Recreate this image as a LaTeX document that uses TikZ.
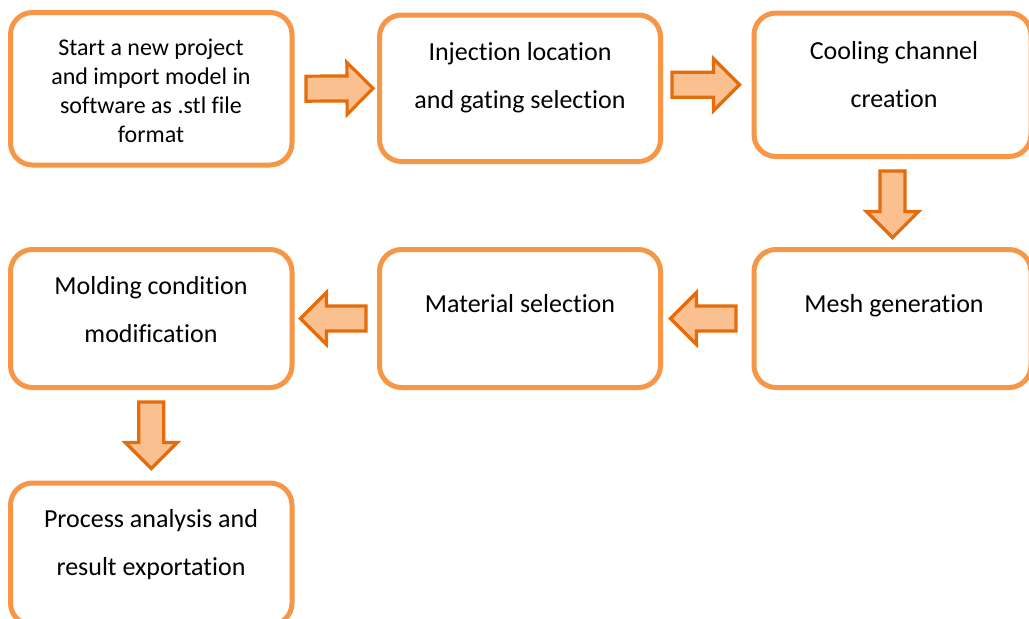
\documentclass[tikz,border=0pt]{standalone}
\usepackage{fontspec}
\setmainfont{Carlito}[Ligatures={NoCommon}, RawFeature={-liga;-clig}]
\usetikzlibrary{calc}
\definecolor{boxline}{RGB}{247,150,70}
\definecolor{arrline}{RGB}{228,108,10}
\definecolor{arrfill}{RGB}{250,192,143}
\begin{document}
\begin{tikzpicture}[x=1pt,y=-1pt,
  stepbox/.style={rectangle, draw=boxline, line width=5pt, rounded corners=22pt,
    fill=white, inner sep=0pt},
  bigtxt/.style={anchor=base, inner sep=0pt, text=black,
    font=\fontsize{26}{31}\selectfont},
  smalltxt/.style={anchor=base, inner sep=0pt, text=black,
    font=\fontsize{24}{29}\selectfont},
  % block arrow between two anchors; #1 = gap at the tail, #2 = gap at the tip
  fatarrow/.style 2 args={draw=arrline, fill=arrfill, line width=3.2pt,
    line join=miter,
    to path={
      let \p1=(\tikztostart), \p2=(\tikztotarget),
          \n1={veclen(\x2-\x1,\y2-\y1)},
          \n2={(\x2-\x1)/\n1}, \n3={(\y2-\y1)/\n1},
          \n4={\n1-(#2)}, \n5={\n1-(#2)-26}
      in
      ({\x1+(#1)*\n2-12.5*\n3},{\y1+(#1)*\n3+12.5*\n2})
      -- ({\x1+\n5*\n2-12.5*\n3},{\y1+\n5*\n3+12.5*\n2})
      -- ({\x1+\n5*\n2-26*\n3},{\y1+\n5*\n3+26*\n2})
      -- ({\x1+\n4*\n2},{\y1+\n4*\n3})
      -- ({\x1+\n5*\n2+26*\n3},{\y1+\n5*\n3-26*\n2})
      -- ({\x1+\n5*\n2+12.5*\n3},{\y1+\n5*\n3-12.5*\n2})
      -- ({\x1+(#1)*\n2+12.5*\n3},{\y1+(#1)*\n3-12.5*\n2})
      -- cycle
    }}]
\useasboundingbox (0,0) rectangle (1029,619);
\clip (0,0) rectangle (1029,619);

% process steps
\node[stepbox, minimum width=281.5pt, minimum height=152.5pt] (b1) at (151.25,88.75) {};
\node[stepbox, minimum width=281pt, minimum height=146.5pt] (b2) at (520,88.25) {};
\node[stepbox, minimum width=277pt, minimum height=143.5pt] (b3) at (892.5,84.75) {};
\node[stepbox, minimum width=277pt, minimum height=138pt] (b4) at (892.5,318.5) {};
\node[stepbox, minimum width=281pt, minimum height=138pt] (b5) at (520,318.5) {};
\node[stepbox, minimum width=281.5pt, minimum height=138pt] (b6) at (151.25,318.5) {};
\node[stepbox, minimum width=281.5pt, minimum height=142pt] (b7) at (151.25,554) {};

% step labels
\node[smalltxt] (t1a) at (151,55) {Start a new project};
\node[smalltxt] (t1b) at (151,84) {and import model in};
\node[smalltxt] (t1c) at (151,113) {software as .stl file};
\node[smalltxt] (t1d) at (151,142) {format};
\node[bigtxt] (t2a) at (520,60) {Injection location};
\node[bigtxt] (t2b) at (520,108) {and gating selection};
\node[bigtxt] (t3a) at (894,59) {Cooling channel};
\node[bigtxt] (t3b) at (894,107) {creation};
\node[bigtxt] (t4a) at (894,312) {Mesh generation};
\node[bigtxt] (t5a) at (520,312) {Material selection};
\node[bigtxt] (t6a) at (151,294) {Molding condition};
\node[bigtxt] (t6b) at (151,342) {modification};
\node[bigtxt] (t7a) at (151,527) {Process analysis and};
\node[bigtxt] (t7b) at (151,575) {result exportation};

% flow between the steps
\coordinate (a2start) at (b2.east |- b3.west);
\draw[fatarrow={11.5}{4}] (b1.east) to (b2.west);
\draw[fatarrow={9}{12}] (a2start) to (b3.west);
\draw[fatarrow={12}{9.5}] (b3.south) to (b4.north);
\draw[fatarrow={15.5}{7.5}] (b4.west) to (b5.east);
\draw[fatarrow={11}{6}] (b5.west) to (b6.east);
\draw[fatarrow={12}{12}] (b6.south) to (b7.north);
\end{tikzpicture}
\end{document}
